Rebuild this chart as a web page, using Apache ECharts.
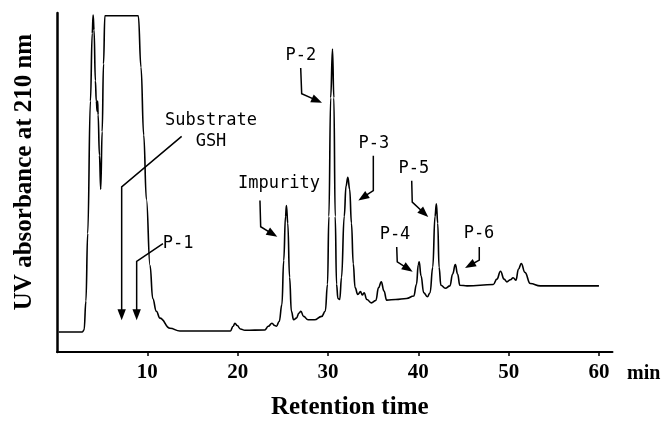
<!DOCTYPE html>
<html>
<head>
<meta charset="utf-8">
<script src="https://cdn.jsdelivr.net/npm/echarts@6/dist/echarts.min.js"></script>
<style>
html,body{margin:0;padding:0;background:#fff;}
#chart{width:661px;height:425px;}
</style>
</head>
<body>
<div id="chart"></div>
<script>
// Retention time (min)
const times = [0.2,2.8,3.0,3.2,3.4,3.7,3.9,4.0,4.1,4.25,4.35,4.45,4.5,4.55,4.7,4.84,5.0,5.15,5.3,
  9.0,9.3,9.6,9.9,10.3,10.6,11.0,11.4,12.5,13.6,19.2,19.5,19.7,19.95,20.3,20.8,23.0,23.4,23.8,24.1,24.3,
  24.6,24.9,25.1,25.3,25.4,25.55,25.75,25.95,26.2,26.5,26.8,27.0,27.3,27.8,28.5,29.3,29.7,29.95,30.1,30.3,
  30.5,30.65,30.8,30.95,31.1,31.3,31.5,31.8,32.0,32.2,32.4,32.6,32.8,33.0,33.3,33.6,33.8,34.0,34.3,34.8,
  35.3,35.6,35.9,36.2,36.5,37.5,38.7,39.5,39.8,40.0,40.1,40.3,40.6,41.0,41.3,41.6,41.85,42.0,42.15,42.3,
  42.5,43.0,43.5,43.8,44.1,44.35,44.6,45.4,48.3,48.7,49.1,49.5,49.8,50.2,50.5,50.8,51.1,51.4,51.8,52.4,
  53.5,60.0];
// UV absorbance (relative units, 0 = axis, 100 = top of frame)
const absorbance = [5.9,5.9,6.5,15,35,74,94,99.4,95,80,74,71,74,70,58,48,65,85,99.2,
  99.2,84,64,45,25.5,15.8,12,10,7,6.2,6.2,7.6,8.5,7.8,6.8,6.4,6.5,7.6,8.5,7.8,7.6,
  9,14,27,40,43.2,38,22,12,9.5,10,11.5,12,10.5,9.5,9.5,10.5,12,20,40,75,
  89.4,75,40,20,15.8,15.5,22,40,49,51.5,48,38,26,19,17,17.8,16.8,17.5,15.5,14.5,
  15.2,19,20.7,18,15.3,15.5,15.8,16.5,20,25.8,26.6,22.5,17.5,16.3,17.5,25,40,43.7,38,25,
  19.7,18.8,19.5,23,25.8,23,19.7,19.5,19.9,21.5,23.8,21.5,20.7,21.3,21.9,21.2,24.5,26.1,23.5,20.2,
  19.5,19.5];
const tickValues = [10, 20, 30, 40, 50, 60];
const tickLabels = ['10', '20', '30', '40', '50', '60'];

// Peak annotations (label text, label anchor [time, absorbance], arrow path ending at the tip)
const annotationLabels = ['Substrate\nGSH', 'P-1', 'Impurity', 'P-2', 'P-3', 'P-4', 'P-5', 'P-6'];
const annotationTextAt = [[17.05,65.2],[13.4,32.0],[24.58,49.6],[27.01,87.4],[35.09,61.6],[37.42,34.6],[39.52,54.0],[46.72,34.9]];
const annotationArrows = [
  [[13.8,63.6],[7.16,48.7],[7.16,9.4]],
  [[11.73,32.0],[8.82,26.7],[8.82,9.4]],
  [[22.47,44.7],[22.55,36.95],[24.39,34.0]],
  [[26.98,83.8],[27.09,76.2],[29.34,73.5]],
  [[35.02,57.9],[35.02,47.6],[33.36,44.7]],
  [[37.61,31.0],[37.67,26.6],[39.38,23.7]],
  [[39.27,50.5],[39.33,44.2],[41.1,39.8]],
  [[46.75,31.0],[46.75,27.1],[45.17,24.8]]
];

const chart = echarts.init(document.getElementById('chart'), null, {renderer: 'canvas'});
const serifBold = '"Liberation Serif", "Times New Roman", serif';
const annFont = '17px "DejaVu Sans Mono", "Liberation Mono", monospace';

function renderArrow(params, api) {
  const i = params.dataIndex;
  const pts = annotationArrows[i].map(p => api.coord(p));
  const tip = pts[pts.length - 1];
  const prev = pts[pts.length - 2];
  const dx = tip[0] - prev[0], dy = tip[1] - prev[1];
  const len = Math.sqrt(dx * dx + dy * dy) || 1;
  const ux = dx / len, uy = dy / len;
  const headLen = 11, headW = 4.2;
  const base = [tip[0] - ux * headLen, tip[1] - uy * headLen];
  const shaft = pts.slice(0, -1).concat([[tip[0] - ux * headLen * 0.7, tip[1] - uy * headLen * 0.7]]);
  const txt = api.coord(annotationTextAt[i]);
  return {
    type: 'group',
    children: [
      {type: 'polyline', shape: {points: shaft}, style: {stroke: '#000', lineWidth: 1.5, fill: null}},
      {type: 'polygon', shape: {points: [tip, [base[0] - uy * headW, base[1] + ux * headW], [base[0] + uy * headW, base[1] - ux * headW]]}, style: {fill: '#000'}},
      {type: 'text', style: {text: annotationLabels[i], x: txt[0], y: txt[1], fill: '#000', font: annFont, align: 'center', verticalAlign: 'middle', lineHeight: 21}}
    ]
  };
}

chart.setOption({
  animation: false,
  backgroundColor: '#fff',
  grid: {left: 57, right: 48.5, top: 13, bottom: 71, containLabel: false},
  xAxis: {
    type: 'value', min: 0, max: 61.5,
    axisLine: {show: true, onZero: false, lineStyle: {color: '#000', width: 2}},
    axisTick: {show: true, inside: false, length: 4, customValues: tickValues, lineStyle: {color: '#000', width: 1.5}},
    axisLabel: {show: true, customValues: tickValues, margin: 10, color: '#000', fontFamily: serifBold, fontWeight: 'bold', fontSize: 21,
      formatter: v => tickLabels[tickValues.indexOf(v)] || ''},
    splitLine: {show: false},
    name: 'Retention time', nameLocation: 'middle', nameGap: 43,
    nameTextStyle: {color: '#000', fontFamily: serifBold, fontWeight: 'bold', fontSize: 25, padding: [0, 0, 0, 30]}
  },
  yAxis: {
    type: 'value', min: 0, max: 100,
    axisLine: {show: true, onZero: false, lineStyle: {color: '#000', width: 2.5}},
    axisTick: {show: false}, axisLabel: {show: false}, splitLine: {show: false},
    name: 'UV absorbance at 210 nm', nameLocation: 'middle', nameGap: 20, nameRotate: 90,
    nameTextStyle: {color: '#000', fontFamily: serifBold, fontWeight: 'bold', fontSize: 25, padding: [0, 0, 0, 21]}
  },
  graphic: [{type: 'text', left: 627, top: 364, style: {text: 'min', fill: '#000', font: 'bold 20px ' + serifBold}}],
  series: [
    {type: 'line', data: times.map((t, i) => [t, absorbance[i]]), showSymbol: false, smooth: 0.45, smoothMonotone: 'x',
      lineStyle: {color: '#000', width: 1.6}, silent: true},
    {type: 'custom', coordinateSystem: 'cartesian2d', data: annotationTextAt, renderItem: renderArrow, clip: false, silent: true}
  ]
});
</script>
</body>
</html>
